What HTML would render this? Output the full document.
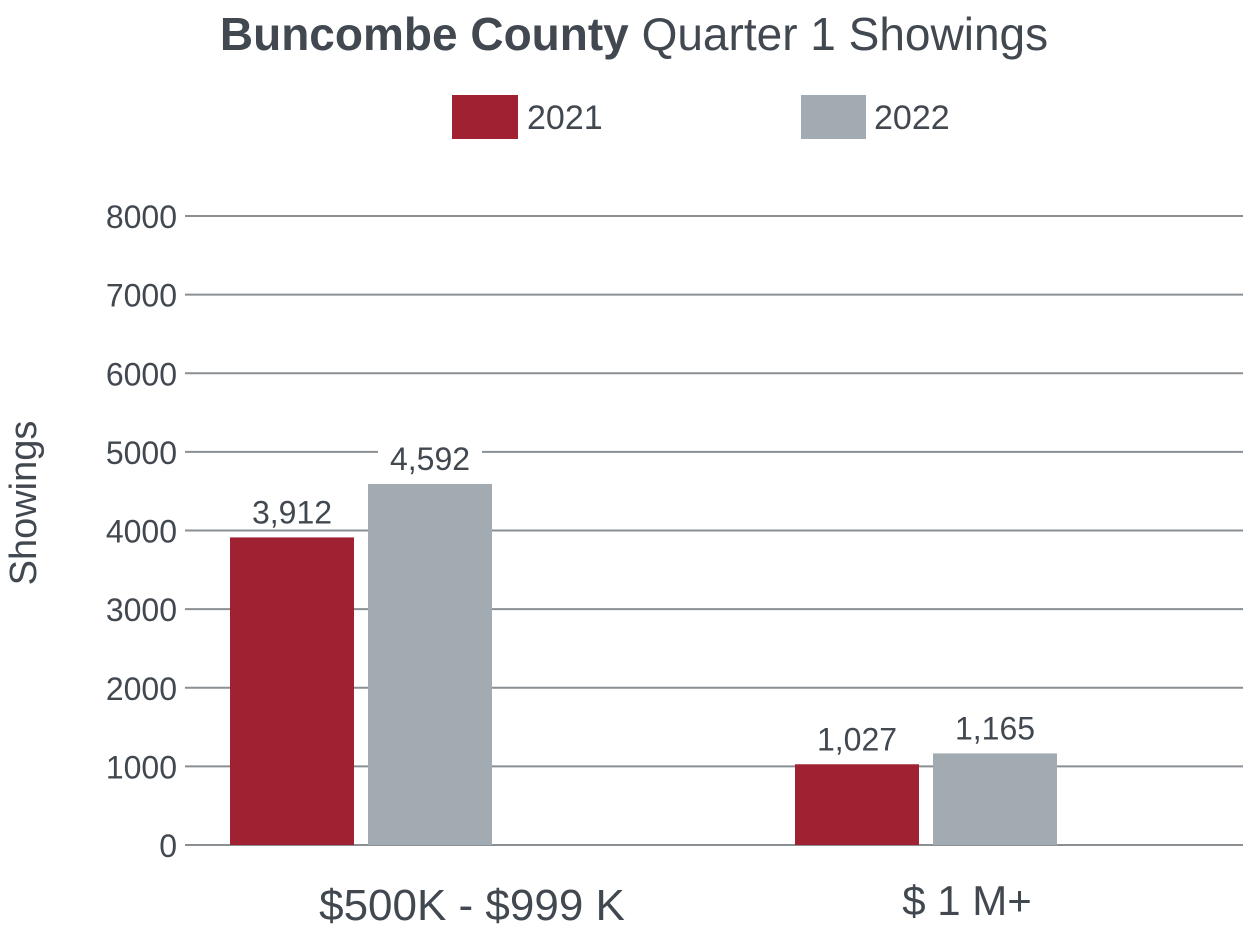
<!DOCTYPE html>
<html><head><meta charset="utf-8"><style>
body{margin:0;background:#fff;}
svg text{font-family:"Liberation Sans",sans-serif;fill:#414850;}
</style></head><body>
<svg width="1250" height="933" viewBox="0 0 1250 933">
<text x="634" y="50" text-anchor="middle" font-size="46"><tspan font-weight="bold">Buncombe County</tspan> <tspan font-weight="normal">Quarter 1 Showings</tspan></text>
<g>
<rect x="452" y="95" width="66" height="44" fill="#a02232"/>
<text x="527" y="129" font-size="34">2021</text>
<rect x="801" y="95" width="65" height="44" fill="#a2abb1"/>
<text x="874" y="129" font-size="34">2022</text>
</g>
<text transform="translate(36,503) rotate(-90)" text-anchor="middle" font-size="38">Showings</text>
<g id="grid"></g><g id="bars"></g><g id="labels"></g>
<text x="472" y="920" text-anchor="middle" font-size="44">$500K - $999 K</text>
<text x="967" y="915" text-anchor="middle" font-size="42">$ 1 M+</text>
</svg>
<script>
const categories=["$500K - $999 K","$ 1 M+"];
const series2021=[3912,1027];
const series2022=[4592,1165];
const ticks=[0,1000,2000,3000,4000,5000,6000,7000,8000];
const NS="http://www.w3.org/2000/svg";
function y(v){return 845-v*(845-216)/8000;}
const groupX=[230,795];
const bw=124, gap=14;
const grid=document.getElementById('grid'),bars=document.getElementById('bars'),labels=document.getElementById('labels');
function mk(tag,attrs,parent){const e=document.createElementNS(NS,tag);for(const k in attrs)e.setAttribute(k,attrs[k]);parent.appendChild(e);return e;}
ticks.forEach(t=>{
 const l=mk('line',{x1:185,x2:1243,y1:y(t),y2:y(t),stroke:'#8a8f94','stroke-width':2},grid);
 
 
 const tx=mk('text',{x:177,y:y(t)+12,'text-anchor':'end','font-size':32},grid);
 tx.textContent=t;
 
 
});
categories.forEach((c,i)=>{
 [[series2021,'#a02232','2021',0],[series2022,'#a2abb1','2022',1]].forEach(([s,col,yr,k])=>{
  const x=groupX[i]+k*(bw+gap), v=s[i];
  const r=mk('rect',{x:x,y:y(v),width:bw,height:845-y(v),fill:col},bars);
  
  
  const bg=mk('rect',{x:x+bw/2-52,y:y(v)-44,width:104,height:36,fill:'#fff'},labels);
  
  
  const t=mk('text',{x:x+bw/2,y:y(v)-14,'text-anchor':'middle','font-size':32},labels);
  t.textContent=v.toLocaleString('en-US');
  
  
 });
});
</script>
</body></html>
